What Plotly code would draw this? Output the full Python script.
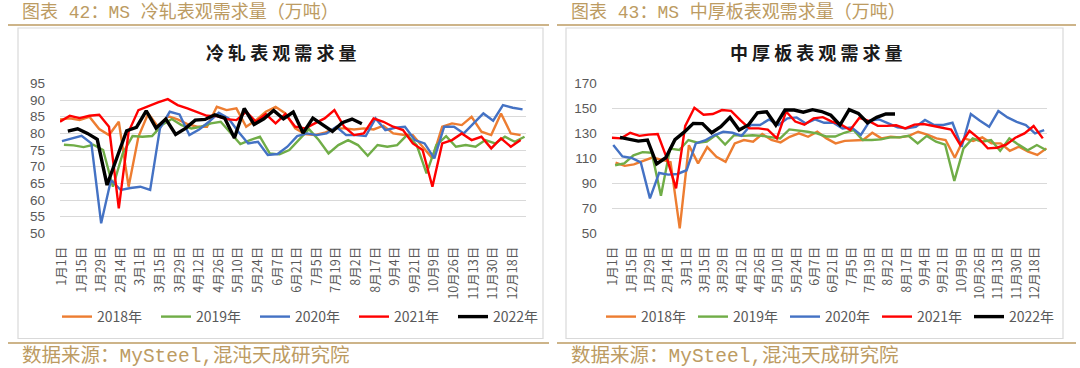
import plotly.graph_objects as go

W, H = 1080, 368

# ---------------- data ----------------
years = ["2018年", "2019年", "2020年", "2021年", "2022年"]
week_labels = ["1月1日", "1月15日", "1月29日", "2月14日", "3月1日", "3月15日", "3月29日",
               "4月12日", "4月26日", "5月10日", "5月24日", "6月7日", "6月21日", "7月5日",
               "7月19日", "8月2日", "8月17日", "9月4日", "9月21日", "10月9日", "10月26日",
               "11月13日", "11月30日", "12月18日"]
label_weeks = list(range(0, 48, 2))

# 冷轧表观需求量 (万吨), weekly
cr_2018 = [84.2, 84.5, 84.0, 85.0, 81.3, 79.5, 83.5, 64.0, 79.0, 86.0,
           82.0, 85.2, 84.2, 82.8, 82.0, 82.0, 88.0, 87.0, 87.5, 82.0,
           84.0, 86.5, 88.0, 86.0, 81.5, 79.8, 79.5, 80.2, 81.5, 81.5,
           81.2, 81.5, 81.2, 82.3, 80.0, 79.6, 79.5, 76.0, 72.5, 82.0,
           83.0, 82.5, 85.0, 80.5, 79.5, 86.0, 80.0, 79.5]
cr_2019 = [76.6, 76.4, 75.9, 76.6, 75.0, 64.0, 74.0, 79.2, 79.0, 79.2,
           82.5, 84.3, 82.5, 81.5, 82.0, 83.0, 83.5, 80.0, 76.8, 78.0,
           79.0, 74.0, 73.7, 75.0, 78.0, 81.3, 78.0, 74.0, 76.5, 78.0,
           76.5, 73.3, 76.5, 76.0, 76.5, 79.5, 76.5, 68.0, 76.5, 79.2,
           76.0, 76.5, 76.0, 78.0, 77.0, 79.0, 77.5, 79.0]
cr_2020 = [77.7, 78.5, 79.3, 77.0, 53.0, 66.0, 63.0, 63.6, 64.0, 63.0,
           81.5, 86.5, 85.7, 79.5, 81.2, 83.5, 86.2, 84.5, 80.5, 77.0,
           77.5, 73.5, 73.8, 76.0, 79.2, 80.0, 79.5, 80.0, 82.0, 79.5,
           79.5, 79.2, 84.5, 81.0, 81.7, 82.0, 78.0, 77.0, 72.5, 82.0,
           82.0, 80.0, 83.0, 86.0, 83.8, 88.5, 87.7, 87.2]
cr_2021 = [83.5, 85.3, 84.6, 85.3, 85.6, 82.0, 57.5, 80.5, 87.0, 88.2,
           89.3, 90.3, 88.5, 87.5, 86.5, 85.3, 85.2, 84.3, 84.0, 86.5,
           83.5, 85.8, 83.0, 85.8, 82.0, 81.5, 83.0, 84.5, 87.0, 82.0,
           79.5, 80.0, 84.5, 83.5, 82.0, 81.0, 77.0, 75.0, 64.0, 77.0,
           78.0, 80.0, 78.0, 79.0, 75.5, 78.5, 76.0, 78.0]
cr_2022 = [80.7, 81.4, 80.0, 78.2, 64.5, 72.5, 80.8, 81.8, 86.8, 81.6,
           84.3, 79.7, 81.5, 84.0, 84.2, 85.6, 84.6, 78.6, 87.5, 82.7,
           84.4, 86.9, 84.4, 86.4, 80.1, 84.6, 82.6, 80.6, 83.2, 84.3, 82.9]
# week position of each year's first observation (relative to 1月1日)
cr_first_week = [-0.2, 0.2, 0.0, -0.2, 0.6]

# 中厚板表观需求量 (万吨), weekly
zhb_2018 = [106.5, 104.0, 105.2, 108.0, 110.6, 109.0, 107.0, 54.0, 120.5, 106.0,
            119.0, 111.3, 107.3, 122.0, 124.7, 123.3, 129.5, 124.7, 122.8, 127.3,
            130.0, 127.3, 131.3, 126.0, 122.0, 124.0, 124.1, 124.7, 130.5, 126.0,
            127.3, 126.8, 128.0, 131.3, 129.0, 126.0, 124.7, 110.5, 126.0, 124.0,
            126.8, 122.0, 122.0, 116.1, 119.3, 115.3, 112.7, 118.0]
zhb_2019 = [104.5, 106.0, 112.5, 115.0, 114.5, 80.0, 117.8, 116.7, 124.7, 122.5,
            123.5, 128.7, 121.0, 128.7, 128.0, 128.5, 128.0, 126.8, 126.0, 133.2,
            132.5, 131.3, 130.0, 127.5, 127.5, 130.5, 132.7, 124.7, 124.7, 125.2,
            126.8, 126.8, 128.0, 122.0, 128.0, 123.3, 121.0, 92.0, 118.0, 126.0,
            123.3, 124.7, 116.0, 126.0, 121.0, 116.5, 120.7, 116.7]
zhb_2020 = [120.7, 111.5, 110.3, 106.8, 78.0, 98.3, 97.0, 97.5, 100.5, 122.0,
            124.3, 128.5, 131.3, 130.5, 128.0, 136.7, 136.7, 141.2, 136.7, 142.0,
            142.8, 138.0, 141.2, 138.5, 138.5, 134.0, 134.8, 128.7, 140.2, 141.2,
            138.0, 134.8, 134.0, 135.3, 140.7, 136.7, 136.7, 138.5, 119.3, 145.5,
            140.2, 135.3, 147.9, 142.8, 139.3, 136.7, 130.0, 132.7]
zhb_2021 = [126.5, 126.0, 130.5, 128.0, 129.0, 129.5, 110.0, 86.0, 136.0, 150.5,
            145.0, 145.5, 148.7, 148.0, 140.7, 134.0, 134.0, 133.0, 126.0, 147.5,
            139.5, 137.0, 142.0, 143.0, 139.5, 137.0, 132.7, 142.5, 140.0, 136.0,
            136.0, 136.5, 134.0, 137.0, 137.5, 136.0, 135.0, 133.0, 120.7, 132.0,
            126.0, 118.0, 118.5, 121.0, 126.5, 130.0, 135.9, 126.0]
zhb_2022 = [126.8, 125.3, 123.8, 124.7, 105.5, 110.5, 125.0, 131.0, 138.0, 137.8,
            130.5, 135.3, 142.8, 132.7, 136.7, 146.5, 147.3, 136.7, 148.7, 148.7,
            147.0, 149.0, 147.5, 144.5, 136.7, 149.0, 146.0, 138.5, 142.8, 145.5, 145.5]
zhb_first_week = [0.25, 0.2, 0.0, -0.15, 0.73]

# ---------------- style ----------------
colors = ["#ED7D31", "#70AD47", "#4472C4", "#FF0000", "#000000"]
widths = [2.4, 2.4, 2.4, 2.4, 3.4]
GOLD = "#BC9B62"
GRID = "#D9D9D9"
TXT = "#595959"
CJK = "Noto Sans CJK SC"


def px(x):
    return x / W


def py(y):
    return 1 - y / H


fig = go.Figure()

panels = [
    (["x", "y"], "legend", [cr_2018, cr_2019, cr_2020, cr_2021, cr_2022], cr_first_week),
    (["x2", "y2"], "legend2", [zhb_2018, zhb_2019, zhb_2020, zhb_2021, zhb_2022], zhb_first_week),
]
for (xa, ya), leg, series, starts in panels:
    for name, vals, s, c, w in zip(years, series, starts, colors, widths):
        fig.add_trace(go.Scatter(
            x=[s + k for k in range(len(vals))], y=vals, mode="lines", name=name,
            line=dict(color=c, width=w), xaxis=xa, yaxis=ya, legend=leg,
            hoverinfo="skip"))

ydom = [py(233.3), py(83.3)]
xaxis_common = dict(tickvals=label_weeks, ticktext=week_labels, tickangle=-90,
                    showgrid=False, zeroline=False, showline=False, ticks="",
                    tickfont=dict(family=CJK, size=12.5, color=TXT),
                    ticklabelstandoff=10, fixedrange=True, automargin=False)
yaxis_common = dict(showgrid=True, gridcolor=GRID, gridwidth=1.3, zeroline=False,
                    showline=False, ticks="", ticklabelstandoff=14,
                    tickfont=dict(family="Liberation Sans", size=13.5, color=TXT),
                    fixedrange=True, automargin=False)

fig.update_layout(
    width=W, height=H, margin=dict(l=0, r=0, t=0, b=0, autoexpand=False),
    paper_bgcolor="white", plot_bgcolor="white",
    xaxis=dict(domain=[px(60), px(526)], range=[-0.2, 47.35], anchor="y", **xaxis_common),
    yaxis=dict(domain=ydom, range=[50, 95.05], tick0=50, dtick=5, anchor="x", **yaxis_common),
    xaxis2=dict(domain=[px(611.7), px(1047.3)], range=[-0.17, 47.34], anchor="y2", **xaxis_common),
    yaxis2=dict(domain=ydom, range=[50, 170.1], tick0=50, dtick=20, anchor="x2", **yaxis_common),
    legend=dict(orientation="h", x=px(57), y=py(317), xanchor="left", yanchor="middle",
                font=dict(family=CJK, size=14, color=TXT), entrywidth=54,
                entrywidthmode="pixels", bgcolor="rgba(0,0,0,0)", traceorder="normal"),
    legend2=dict(orientation="h", x=px(601), y=py(317), xanchor="left", yanchor="middle",
                 font=dict(family=CJK, size=14, color=TXT), entrywidth=47,
                 entrywidthmode="pixels", bgcolor="rgba(0,0,0,0)", traceorder="normal"),
    showlegend=True,
)

shapes = []
# chart boxes
for x0, x1 in [(18, 543), (566, 1063)]:
    shapes.append(dict(type="rect", xref="paper", yref="paper", x0=px(x0), x1=px(x1),
                       y0=py(338.5), y1=py(28), line=dict(color=GRID, width=1.2),
                       fillcolor="rgba(0,0,0,0)", layer="below"))
# gold rules
for x0, x1 in [(8, 549), (557, 1076)]:
    for yy in (25, 343):
        shapes.append(dict(type="line", xref="paper", yref="paper", x0=px(x0), x1=px(x1),
                           y0=py(yy), y1=py(yy), line=dict(color=GOLD, width=1.6)))
fig.update_layout(shapes=shapes)

ann = []
headers = [(20, "图表 42：MS 冷轧表观需求量（万吨）"), (569, "图表 43：MS 中厚板表观需求量（万吨）")]
for x0, t in headers:
    ann.append(dict(text=t, x=px(x0), y=py(13), xref="paper", yref="paper", xanchor="left",
                    yanchor="middle", showarrow=False,
                    font=dict(family="Liberation Mono, " + CJK, size=18, color=GOLD)))
for x0 in (20, 569):
    ann.append(dict(text="数据来源：MySteel,混沌天成研究院", x=px(x0), y=py(356), xref="paper",
                    yref="paper", xanchor="left", yanchor="middle", showarrow=False,
                    font=dict(family="Liberation Mono, " + CJK, size=19.5, color=GOLD)))
titles = [(281, "冷 轧 表 观 需 求 量"), (816, "中 厚 板 表 观 需 求 量")]
for xc, t in titles:
    ann.append(dict(text="<b>" + t + "</b>", x=px(xc), y=py(52), xref="paper", yref="paper",
                    xanchor="center", yanchor="middle", showarrow=False,
                    font=dict(family=CJK, size=18, color="#1A1A1A")))
fig.update_layout(annotations=ann)

# remove the default page margin so the figure fills the 1080x368 window exactly
fig.write_html("out.html", config={"displayModeBar": False},
               post_script="document.body.style.margin='0';document.body.style.overflow='hidden';")
